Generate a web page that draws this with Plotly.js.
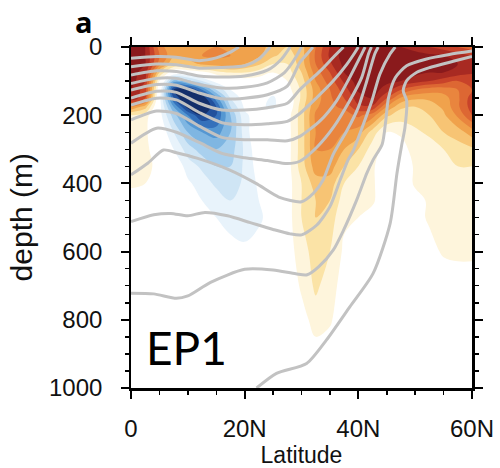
<!DOCTYPE html>
<html><head><meta charset="utf-8">
<script src="https://cdn.plot.ly/plotly-3.0.1.min.js"></script>
<style>html,body{margin:0;padding:0;background:#fff}</style>
</head><body><div id="chart" style="width:500px;height:468px"></div>
<script>
const lat = [0,2.5,5,7.5,10,12.5,15,17.5,20,22.5,25,27.5,30,32.5,35,37.5,40,42.5,45,47.5,50,52.5,55,57.5,60];
const depth = [0,25,50,75,100,125,150,175,200,250,300,350,400,450,500,600,700,800,900,1000];
const anomaly = [
 [0.95,0.9,0.55,0.4,0.42,0.45,0.5,0.48,0.5,0.45,0.35,0.3,0.35,0.6,0.8,0.95,0.95,0.95,0.95,0.9,0.85,0.8,0.75,0.7,0.65],
 [0.95,0.9,0.6,0.42,0.45,0.5,0.52,0.5,0.45,0.42,0.32,0.25,0.35,0.62,0.82,0.95,0.95,0.95,0.95,0.95,0.95,0.92,0.9,0.85,0.8],
 [0.95,0.9,0.55,0.3,0.35,0.42,0.45,0.48,0.4,0.32,0.2,0.2,0.35,0.6,0.78,0.93,0.95,0.95,0.95,0.95,0.95,0.95,0.92,0.9,0.85],
 [0.95,0.85,0.3,0.0,0.0,0.05,0.15,0.2,0.2,0.15,0.1,0.15,0.3,0.55,0.7,0.9,0.95,0.95,0.95,0.95,0.93,0.9,0.9,0.85,0.82],
 [0.95,0.8,0.1,-0.45,-0.35,-0.2,-0.05,0.0,0.05,0.05,0.0,0.1,0.25,0.5,0.65,0.82,0.95,0.95,0.93,0.9,0.85,0.8,0.75,0.7,0.7],
 [0.9,0.75,0.0,-0.8,-0.85,-0.6,-0.3,-0.1,0.0,0.0,-0.05,0.05,0.22,0.45,0.6,0.75,0.92,0.95,0.85,0.7,0.6,0.55,0.55,0.6,0.7],
 [0.9,0.7,-0.05,-0.7,-0.95,-0.9,-0.55,-0.2,-0.05,-0.05,-0.12,0.0,0.22,0.45,0.58,0.7,0.85,0.9,0.7,0.48,0.42,0.42,0.45,0.58,0.75],
 [0.5,0.35,-0.05,-0.5,-0.85,-0.95,-0.7,-0.3,-0.08,-0.08,-0.12,0.0,0.25,0.48,0.58,0.62,0.78,0.78,0.5,0.32,0.3,0.35,0.42,0.58,0.75],
 [0.2,0.15,-0.05,-0.35,-0.6,-0.8,-0.7,-0.4,-0.12,-0.05,-0.05,0.05,0.25,0.52,0.56,0.56,0.62,0.55,0.32,0.25,0.25,0.3,0.38,0.52,0.7],
 [0.15,0.12,0.0,-0.2,-0.4,-0.5,-0.55,-0.4,-0.15,0.0,0.0,0.05,0.25,0.5,0.55,0.5,0.45,0.25,0.1,0.12,0.18,0.22,0.3,0.35,0.45],
 [0.15,0.12,0.05,-0.1,-0.25,-0.35,-0.4,-0.35,-0.18,-0.02,0.0,0.05,0.25,0.5,0.5,0.4,0.3,0.15,0.05,0.05,0.15,0.15,0.2,0.25,0.28],
 [0.12,0.12,0.08,0.0,-0.15,-0.22,-0.3,-0.3,-0.18,-0.05,0.0,0.05,0.25,0.45,0.45,0.3,0.2,0.12,0.0,0.0,0.12,0.15,0.15,0.2,0.2],
 [0.12,0.1,0.08,0.0,-0.08,-0.15,-0.22,-0.25,-0.18,-0.08,0.0,0.05,0.2,0.35,0.35,0.2,0.15,0.12,0.0,0.0,0.12,0.12,0.12,0.15,0.15],
 [0.05,0.05,0.05,0.0,-0.05,-0.1,-0.15,-0.2,-0.15,-0.1,-0.02,0.05,0.2,0.3,0.3,0.15,0.12,0.12,0.0,0.0,0.05,0.12,0.12,0.15,0.15],
 [0,0,0,0,0,-0.05,-0.1,-0.15,-0.15,-0.12,-0.05,0.05,0.2,0.3,0.25,0.12,0.1,0.05,0,0,0.05,0.12,0.12,0.15,0.15],
 [0,0,0,0,0,0,0,-0.05,-0.08,-0.05,0,0.05,0.15,0.25,0.2,0.08,0.05,0,0,0,0,0.05,0.12,0.12,0.12],
 [0,0,0,0,0,0,0,0,0,0,0,0,0.12,0.22,0.15,0.05,0,0,0,0,0,0,0,0.05,0.05],
 [0,0,0,0,0,0,0,0,0,0,0,0,0.05,0.15,0.12,0,0,0,0,0,0,0,0,0,0],
 [0,0,0,0,0,0,0,0,0,0,0,0,0,0.05,0.02,0,0,0,0,0,0,0,0,0,0],
 [0,0,0,0,0,0,0,0,0,0,0,0,0,0,0,0,0,0,0,0,0,0,0,0,0]
];
// band edges and colours of the filled contours
const bandEdges = [-1,-0.8,-0.7,-0.6,-0.5,-0.4,-0.3,-0.2,-0.1,0.1,0.2,0.3,0.4,0.5,0.6,0.7,0.8,0.9,1];
const bandColors = ['#142f6b','#21509c','#3571bb','#5597d2','#7fb6e2','#a9d0ee','#cfe5f5','#e8f3fb','#ffffff',
  '#fef5dc','#fbe3a6','#f7c474','#f0a24c','#e9853e','#dd6733','#c8432a','#a82a22','#8a1a1c'];

// grey isolines (latitude, depth)
const isoA_lat = [22.1,25.6,30.9,34.4,38.5,42.6,45.6,46.8,47.6,48.2,48.5,47.9,48.5,50.3,52.6,56.7,60];
const isoA_dep = [1000,957,928,859,762,664,517,370,290,236,157,128,99,74,60,42,28];
const isoB_lat = [0,4,8,10,14,20,25,29,31,33,35.6,37.4,39.7,41.5,42.6,44.2,44.8,45.3,46.5,48.5,52,56,60];
const isoB_dep = [722,724,737,730,690,652,654,665,668,645,595,537,449,370,331,285,220,150,90,55,35,22,12];
const isoC_lat = [0,4,7,10,13,17,21,25,28,30,32.7,35,36.8,38.2,39.1,40.9,42.4,43.8,45.6,46.5];
const isoC_dep = [512,492,488,495,485,495,515,535,548,551,522,468,390,331,304,226,157,79,20,0];
const isoD_lat = [0,3,5.7,8,11.6,17.4,22,26,30,32.1,33.8,35.6,38,40,41.5,42.9,43.5];
const isoD_dep = [375,340,302,310,326,361,400,440,454,429,390,314,245,177,99,20,0];
const isoE_lat = [0,4.5,8,12,16,20,24,27.5,29.7,32.7,35.6,38.5,40.6,41.8,42.3];
const isoE_dep = [282,238,250,280,312,325,333,342,335,294,236,157,89,20,0];
const isoF_lat = [0,4.5,8,12,16,20,24,27.5,29.7,33.3,36.2,38.5,40.6,41.2];
const isoF_dep = [214,188,195,232,265,272,272,275,262,216,157,89,20,0];
const isoG_lat = [0,4.5,8,12,16,20,24,27.5,29.7,32.7,35.6,38,39.4,40];
const isoG_dep = [170,150,155,192,222,228,225,218,195,148,99,50,16,0];
const isoH_lat = [0,4.5,8,12,16,20,24,27.5,29.7,33.3,35.6,37.4];
const isoH_dep = [150,130,133,165,185,185,178,165,125,70,30,0];
const isoI_lat = [0,4.5,8,12,16,20,24,27.5,29.7,31,32];
const isoI_dep = [126,110,112,135,152,150,140,115,45,20,0];
const isoJ_lat = [0,4.5,8,12,16,20,24,27,29,30];
const isoJ_dep = [107,92,92,110,120,118,105,75,30,0];
const isoK_lat = [0,4.5,8,12,16,20,24,26.5,28];
const isoK_dep = [82,70,72,85,88,85,68,35,0];
const isoL_lat = [0,4.5,8,12,16,20,22.5,24.5];
const isoL_dep = [58,50,52,62,60,55,35,0];
const isoM_lat = [0,4.5,8,12,15,17.5,19];
const isoM_dep = [33,28,30,40,32,15,0];

const xTickVals = [0,20,40,60];
const xTickText = ['0','20N','40N','60N'];

const colorscale = [];
for (let i = 0; i < bandColors.length; i++) {
  colorscale.push([(bandEdges[i]+1)/2, bandColors[i]]);
  colorscale.push([(bandEdges[i+1]+1)/2, bandColors[i]]);
}

const traces = [{
  type: 'contour', x: lat, y: depth, z: anomaly,
  zmin: -1, zmax: 1, zauto: false, colorscale: colorscale, showscale: false,
  contours: {start: -0.9, end: 0.9, size: 0.1, coloring: 'fill', showlines: false},
  line: {width: 0, smoothing: 1.1}, hoverinfo: 'skip'
}];
const iso = [[isoA_lat,isoA_dep],[isoB_lat,isoB_dep],[isoC_lat,isoC_dep],[isoD_lat,isoD_dep],[isoE_lat,isoE_dep],
  [isoF_lat,isoF_dep],[isoG_lat,isoG_dep],[isoH_lat,isoH_dep],[isoI_lat,isoI_dep],[isoJ_lat,isoJ_dep],
  [isoK_lat,isoK_dep],[isoL_lat,isoL_dep],[isoM_lat,isoM_dep]];
iso.forEach(p => traces.push({
  type: 'scatter', mode: 'lines', x: p[0], y: p[1],
  line: {color: '#c2c2c2', width: 3, shape: 'spline', smoothing: 0.7},
  hoverinfo: 'skip', showlegend: false
}));

const fontFam = 'Liberation Sans, Arial, sans-serif';
const axisCommon = {
  showline: true, linecolor: 'black', linewidth: 2.5, mirror: 'allticks',
  ticks: 'outside', ticklen: 8, tickwidth: 2, tickcolor: 'black',
  showgrid: false, zeroline: false,
  tickfont: {family: fontFam, size: 24, color: '#111'}
};
const layout = {
  width: 500, height: 468,
  margin: {l: 131, r: 28, t: 47, b: 80},
  paper_bgcolor: 'white', plot_bgcolor: 'white', showlegend: false,
  xaxis: Object.assign({}, axisCommon, {
    range: [0, 60], tickmode: 'array', tickvals: xTickVals, ticktext: xTickText,
    ticklabelstandoff: 10,
    minor: {tick0: 0, dtick: 5, ticks: 'outside', ticklen: 4, tickwidth: 1.5, tickcolor: 'black'},
    title: {text: 'Latitude', font: {family: fontFam, size: 23, color: '#111'}, standoff: 11}
  }),
  yaxis: Object.assign({}, axisCommon, {
    range: [1000, 0], tickmode: 'linear', tick0: 0, dtick: 200,
    ticksuffix: '\u00a0\u00a0',
    minor: {tick0: 0, dtick: 50, ticks: 'outside', ticklen: 4, tickwidth: 1.5, tickcolor: 'black'}
  }),
  annotations: [
    {text: 'depth (m)', textangle: -90, xref: 'paper', yref: 'paper', x: -0.32, y: 0.5,
     xanchor: 'center', yanchor: 'middle', showarrow: false,
     font: {family: fontFam, size: 30, color: '#111'}},
    {text: '<b>a</b>', xref: 'paper', yref: 'paper', x: -0.138, y: 1.076, xanchor: 'center', yanchor: 'middle',
     showarrow: false, font: {family: 'Open Sans, sans-serif', size: 29, color: 'black'}},
    {text: 'EP1', xref: 'x', yref: 'y', x: 9.8, y: 880, xanchor: 'center', yanchor: 'middle',
     showarrow: false, font: {family: 'Lato, sans-serif', size: 46, color: 'black'}}
  ]
};
Plotly.newPlot('chart', traces, layout, {displayModeBar: false, staticPlot: true});
</script></body></html>
